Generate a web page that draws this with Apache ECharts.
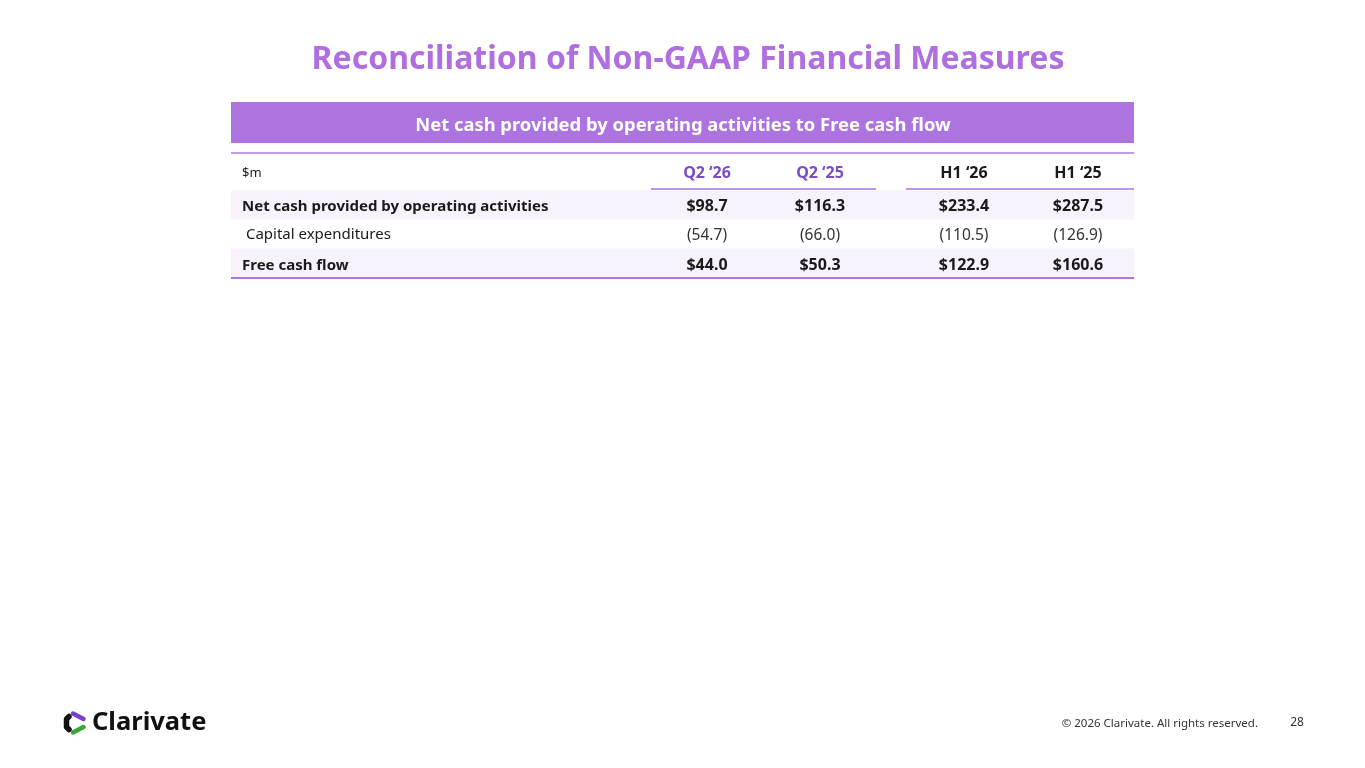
<!DOCTYPE html>
<html>
<head>
    <meta charset="UTF-8">
    <title>Reconciliation of Non-GAAP Financial Measures</title>
    <script src="https://cdn.jsdelivr.net/npm/echarts@6/dist/echarts.min.js"></script>
    <style>
        html, body { margin: 0; padding: 0; background: #fff; }
        #chart { width: 1365px; height: 768px; }
    </style>
</head>
<body>
<div id="chart"></div>
<script>
    // table data
    var columns = ['Q2 \u201826', 'Q2 \u201825', 'H1 \u201826', 'H1 \u201825'];
    var rowLabels = ['Net cash provided by operating activities', ' Capital expenditures', 'Free cash flow'];
    var netCash = ['$98.7', '$116.3', '$233.4', '$287.5'];
    var capex = ['(54.7)', '(66.0)', '(110.5)', '(126.9)'];
    var freeCash = ['$44.0', '$50.3', '$122.9', '$160.6'];
    var rowValues = [netCash, capex, freeCash];
    var rowBold = [true, false, true];

    var FONT = '"Noto Sans", sans-serif';
    var PURPLE = '#ad74e0';
    var colX = [707, 820, 964, 1078];
    var rowY = [190, 219, 248];
    var rowTextY = [206.5, 234.5, 265.5];
    var rowH = 29;

    var els = [];

    // title
    els.push({ type: 'text', x: 688, y: 60, style: {
        text: 'Reconciliation of Non-GAAP Financial Measures',
        font: 'bold 32px ' + FONT, fill: '#b06fe0', align: 'center', verticalAlign: 'middle' } });

    // header band
    els.push({ type: 'rect', shape: { x: 231, y: 102, width: 903, height: 41 }, style: { fill: PURPLE } });
    els.push({ type: 'text', x: 683, y: 125.5, style: {
        text: 'Net cash provided by operating activities to Free cash flow',
        font: 'bold 18.4px ' + FONT, fill: '#fff', align: 'center', verticalAlign: 'middle' } });
    els.push({ type: 'line', shape: { x1: 231, y1: 153, x2: 1134, y2: 153 }, style: { stroke: '#c39ae9', lineWidth: 2 } });

    // column headers
    els.push({ type: 'text', x: 242, y: 173, style: { text: '$m', font: '13px ' + FONT, fill: '#222', verticalAlign: 'middle' } });
    columns.forEach(function (c, i) {
        els.push({ type: 'text', x: colX[i], y: 173, style: {
            text: c, font: 'bold 16px ' + FONT, fill: i < 2 ? '#7b4cc6' : '#1a1a1a',
            align: 'center', verticalAlign: 'middle' } });
    });
    els.push({ type: 'line', shape: { x1: 651, y1: 189, x2: 876, y2: 189 }, style: { stroke: '#a276dc', lineWidth: 1.5 } });
    els.push({ type: 'line', shape: { x1: 906, y1: 189, x2: 1134, y2: 189 }, style: { stroke: '#a276dc', lineWidth: 1.5 } });

    // rows
    rowLabels.forEach(function (label, r) {
        if (rowBold[r]) {
            els.push({ type: 'rect', z: -1, shape: { x: 231, y: rowY[r] + 0.5, width: 903, height: rowH },
                style: { fill: '#f8f2fc' } });
        }
        var cy = rowTextY[r];
        els.push({ type: 'text', x: 242, y: cy, style: {
            text: label, font: (rowBold[r] ? 'bold ' : '') + '15px ' + FONT, fill: '#1a1a1a',
            verticalAlign: 'middle' } });
        rowValues[r].forEach(function (v, i) {
            els.push({ type: 'text', x: colX[i], y: rowBold[r] ? cy - 0.5 : cy + 1, style: {
                text: v, font: (rowBold[r] ? 'bold 16px ' : '15.5px ') + FONT, fill: rowBold[r] ? '#1a1a1a' : '#333',
                align: 'center', verticalAlign: 'middle' } });
        });
    });
    els.push({ type: 'line', shape: { x1: 231, y1: 278, x2: 1134, y2: 278 }, style: { stroke: PURPLE, lineWidth: 2 } });

    // logo
    els.push({ type: 'polyline', shape: { points: [[69, 716.5], [66.5, 719], [66.5, 727], [69, 729.5]] },
        style: { stroke: '#111', lineWidth: 5.5, lineCap: 'round', lineJoin: 'round' } });
    els.push({ type: 'line', shape: { x1: 73, y1: 713.5, x2: 83.5, y2: 719 },
        style: { stroke: '#7b3fd0', lineWidth: 4.5, lineCap: 'round' } });
    els.push({ type: 'line', shape: { x1: 73, y1: 732.5, x2: 83.5, y2: 727 },
        style: { stroke: '#3aa63a', lineWidth: 4.5, lineCap: 'round' } });
    els.push({ type: 'text', x: 92, y: 723, style: { text: 'Clarivate', font: 'bold 25.5px ' + FONT, fill: '#111', verticalAlign: 'middle' } });

    // footer
    els.push({ type: 'text', x: 1258, y: 724, style: { text: '\u00a9 2026 Clarivate. All rights reserved.',
        font: '11.5px ' + FONT, fill: '#333', align: 'right', verticalAlign: 'middle' } });
    els.push({ type: 'text', x: 1297, y: 723, style: { text: '28', font: '12px ' + FONT, fill: '#333',
        align: 'center', verticalAlign: 'middle' } });

    var myChart = echarts.init(document.getElementById('chart'));
    myChart.setOption({
        backgroundColor: '#fff',
        animation: false,
        graphic: els
    });
</script>
</body>
</html>
